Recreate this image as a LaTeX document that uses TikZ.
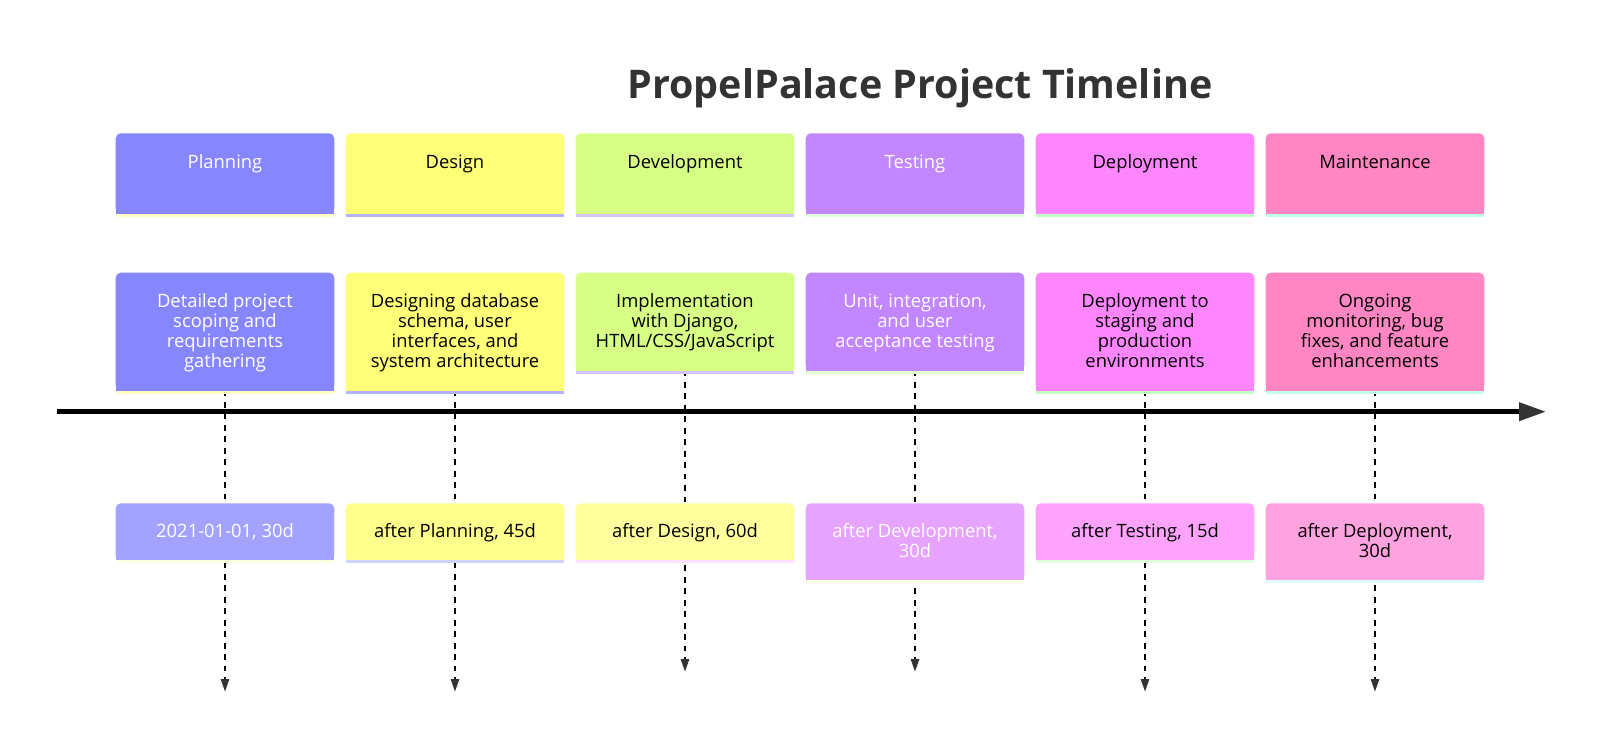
\documentclass[tikz,border=0pt]{standalone}
\usepackage{fontspec}
\setmainfont{Open Sans}
\usetikzlibrary{arrows.meta}
\pgfdeclarelayer{paper}
\pgfdeclarelayer{lines}
\pgfdeclarelayer{bg}
\pgfsetlayers{paper,lines,bg,main}
\definecolor{c0}{HTML}{8686FF}
\definecolor{c1}{HTML}{FFFF78}
\definecolor{c2}{HTML}{D7FF86}
\definecolor{c3}{HTML}{C286FF}
\definecolor{c4}{HTML}{FF86FF}
\definecolor{c5}{HTML}{FF86C2}
\definecolor{l0}{HTML}{FFFFC2}
\definecolor{l1}{HTML}{B3B3FF}
\definecolor{l2}{HTML}{D9C3FF}
\definecolor{l3}{HTML}{E2FFD2}
\definecolor{l4}{HTML}{C2FFC2}
\definecolor{l5}{HTML}{C2FFEA}
\definecolor{e0}{HTML}{A3A3FF}
\definecolor{e1}{HTML}{FFFF8C}
\definecolor{e2}{HTML}{FFFF9E}
\definecolor{e3}{HTML}{E6A3FF}
\definecolor{e4}{HTML}{FFA3FF}
\definecolor{e5}{HTML}{FFA3E0}
\definecolor{m0}{HTML}{FFFFE2}
\definecolor{m1}{HTML}{D2D2FF}
\definecolor{m2}{HTML}{FFE2FF}
\definecolor{m3}{HTML}{FFFFE0}
\definecolor{m4}{HTML}{E2FFE2}
\definecolor{m5}{HTML}{E2FFFF}
\definecolor{dark}{HTML}{333333}
\tikzset{
  boxnode/.style={draw=none, inner sep=0pt, minimum width=163.5pt, anchor=north},
  txt/.style={font=\fontsize{13.8pt}{15pt}\selectfont, align=center, inner sep=0pt, anchor=base},
  wtxt/.style={txt, text=white},
  btxt/.style={txt, text=black},
  mainline/.style={line width=3.45pt, black, -{Triangle[length=20.25pt, width=13.3pt, color=dark]}},
  dashline/.style={line width=2pt, black, dash pattern=on 4.3pt off 4.3pt, -{Triangle[length=9.75pt, width=6pt, color=dark]}},
  ttl/.style={font=\fontsize{29.6pt}{34pt}\selectfont\bfseries, text=dark, anchor=base, inner sep=0pt}
}
\newcommand\tlbox[6]{%
  \node[boxnode, minimum height=#4*0.75pt] (#1) at (#2,#3) {};
  \begin{pgfonlayer}{bg}
    \fill[#5, rounded corners=3.75pt] (#1.south west) rectangle (#1.north east);
    \fill[#5] (#1.south west) rectangle (#1.east);
    \fill[#6] (#1.south west) rectangle ([yshift=-2.55pt]#1.south east);
  \end{pgfonlayer}}
\begin{document}
\begin{tikzpicture}[x=0.75pt, y=-0.75pt]
\begin{pgfonlayer}{paper}
\fill[white] (0,0) rectangle (1600,748);
\end{pgfonlayer}
\useasboundingbox (0,0) rectangle (1600,748);
\node[ttl] (title) at (920,99) {PropelPalace Project Timeline};
% header boxes
\tlbox{h0}{225}{133.3}{80}{c0}{l0}
\tlbox{h1}{455}{133.3}{80}{c1}{l1}
\tlbox{h2}{685}{133.3}{80}{c2}{l2}
\tlbox{h3}{915}{133.3}{80}{c3}{l3}
\tlbox{h4}{1145}{133.3}{80}{c4}{l4}
\tlbox{h5}{1375}{133.3}{80}{c5}{l5}
\node[wtxt] (h0t) at (225,169) {Planning};
\node[btxt] (h1t) at (455,169) {Design};
\node[btxt] (h2t) at (685,169) {Development};
\node[wtxt] (h3t) at (915,169) {Testing};
\node[btxt] (h4t) at (1145,169) {Deployment};
\node[btxt] (h5t) at (1375,169) {Maintenance};
% text boxes
\tlbox{t0}{225}{272.7}{117.3}{c0}{l0}
\tlbox{t1}{455}{272.7}{117.3}{c1}{l1}
\tlbox{t2}{685}{272.7}{97.3}{c2}{l2}
\tlbox{t3}{915}{272.7}{97.3}{c3}{l3}
\tlbox{t4}{1145}{272.7}{117.3}{c4}{l4}
\tlbox{t5}{1375}{272.7}{117.3}{c5}{l5}
\node[wtxt] (t0t) at (225,368) {Detailed project\\scoping and\\requirements\\gathering};
\node[btxt] (t1t) at (455,368) {Designing database\\schema, user\\interfaces, and\\system architecture};
\node[btxt] (t2t) at (685,348) {Implementation\\with Django,\\HTML/CSS/JavaScript};
\node[wtxt] (t3t) at (915,348) {Unit, integration,\\and user\\acceptance testing};
\node[btxt] (t4t) at (1145,368) {Deployment to\\staging and\\production\\environments};
\node[btxt] (t5t) at (1375,368) {Ongoing\\monitoring, bug\\fixes, and feature\\enhancements};
% event boxes
\tlbox{e0}{225}{503.3}{56}{e0}{m0}
\tlbox{e1}{455}{503.3}{56}{e1}{m1}
\tlbox{e2}{685}{503.3}{56}{e2}{m2}
\tlbox{e3}{915}{503.3}{76}{e3}{m3}
\tlbox{e4}{1145}{503.3}{56}{e4}{m4}
\tlbox{e5}{1375}{503.3}{76}{e5}{m5}
\node[wtxt] (e0t) at (225,537.5) {2021-01-01, 30d};
\node[btxt] (e1t) at (455,537.5) {after Planning, 45d};
\node[btxt] (e2t) at (685,537.5) {after Design, 60d};
\node[wtxt] (e3t) at (915,557.5) {after Development,\\30d};
\node[btxt] (e4t) at (1145,537.5) {after Testing, 15d};
\node[btxt] (e5t) at (1375,557.5) {after Deployment,\\30d};
% dashed connectors
\coordinate (d0) at (225,692);
\coordinate (d1) at (455,692);
\coordinate (d2) at (685,672);
\coordinate (d3) at (915,672);
\coordinate (d4) at (1145,692);
\coordinate (d5) at (1375,692);
\begin{pgfonlayer}{lines}
\foreach \i in {0,...,5} {\draw[dashline] (t\i.south) -- (d\i);}
\end{pgfonlayer}
% main timeline
\coordinate (tlstart) at (57,411.7);
\coordinate (tlend) at (1546,411.7);
\draw[mainline] (tlstart) -- (tlend);
\end{tikzpicture}
\end{document}
